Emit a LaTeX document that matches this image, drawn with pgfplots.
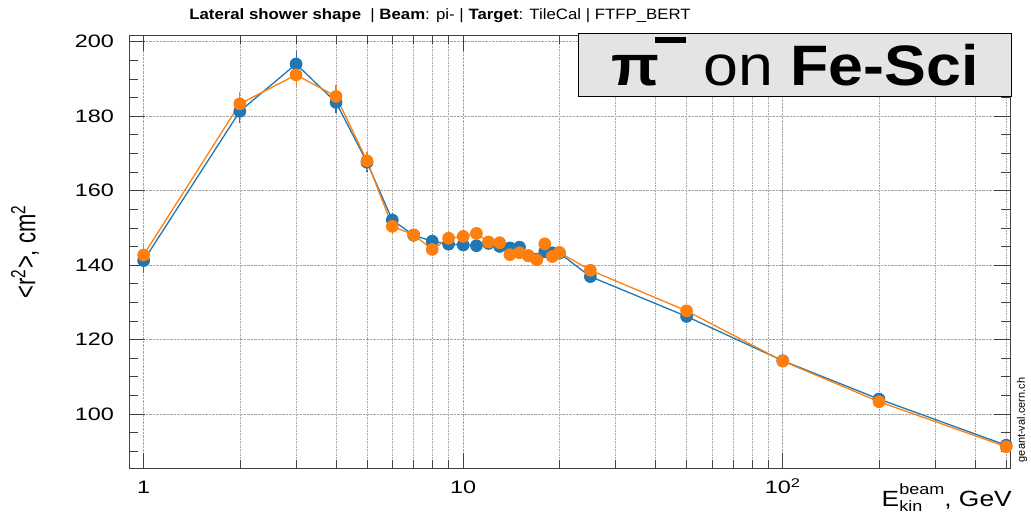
\documentclass[border=0pt]{standalone}
\usepackage{fontspec}
\setmainfont{Liberation Sans}
\usepackage{pgfplots}
\usepackage{pgfplotstable}
\pgfplotsset{compat=1.18}

\definecolor{simblue}{HTML}{1F77B4}
\definecolor{simorange}{HTML}{FF7F0E}
\definecolor{boxgray}{HTML}{E4E4E4}

% <r^2> versus beam energy, two Geant4 builds
\pgfplotstableread{
E    r      e
1    141.2  2.4
2    181.3  2.2
3    194.0  2.8
4    183.7  2.0
5    167.6  1.8
6    152.1  1.2
7    148.0  1.0
8    146.4  0.8
9    145.6  0.8
10   145.4  0.8
11   145.2  0.8
12   145.8  0.8
13   145.0  0.8
14   144.6  0.8
15   144.8  0.8
16   142.5  0.8
17   141.6  0.8
18   143.6  0.8
19   143.3  0.8
20   143.2  0.8
25   136.9  0.6
50   126.2  0.6
100  114.3  0.5
200  104.0  0.5
500  91.6   0.5
}\blueset

\pgfplotstableread{
E    r      e
1    142.7  2.0
2    183.3  2.4
3    191.1  2.2
4    185.3  2.2
5    168.0  1.6
6    150.4  1.2
7    148.1  1.0
8    144.2  1.0
9    147.2  0.9
10   147.7  0.9
11   148.5  0.9
12   146.2  0.8
13   146.0  0.8
14   142.8  0.8
15   143.3  0.8
16   142.5  0.8
17   141.4  0.8
18   145.7  0.8
19   142.3  0.8
20   143.4  0.8
25   138.6  0.6
50   127.7  0.6
100  114.2  0.5
200  103.3  0.5
500  91.2   0.5
}\orangeset

\begin{document}
\begin{tikzpicture}[x=1pt,y=1pt]
\useasboundingbox (0,0) rectangle (1031,514);
\begin{axis}[
  name=main,
  at={(129pt,45.3pt)}, anchor=south west,
  scale only axis, width=881pt, height=433.7pt,
  xmode=log, log basis x=10,
  xmin=0.9, xmax=514, ymin=85.3, ymax=201.8,
  xtick={1,10,100},
  xticklabels={\scalebox{1.3}[1]{1},\scalebox{1.3}[1]{10},\scalebox{1.3}[1]{10\textsuperscript{2}}},
  minor xtick={2,3,4,5,6,7,8,9,20,30,40,50,60,70,80,90,200,300,400,500},
  ytick={100,120,140,160,180,200},
  minor ytick={90,95,105,110,115,125,130,135,145,150,155,165,170,175,185,190,195},
  yticklabel={\scalebox{1.3}[1]{\pgfmathprintnumber[assume math mode=true]{\tick}}},
  xticklabel style={font=\fontsize{18}{18}\selectfont, anchor=base, inner sep=0pt, yshift=-25pt},
  yticklabel style={font=\fontsize{18}{18}\selectfont, anchor=east, inner sep=0pt, xshift=-15pt},
  tick align=inside,
  major tick length=16pt, minor tick length=9pt,
  every tick/.style={black!75, line width=0.6pt},
  axis line style={black!75, line width=0.7pt},
  xmajorgrids, xminorgrids, ymajorgrids,
  grid style={densely dotted, black!35, line width=0.6pt},
  minor grid style={densely dotted, black!35, line width=0.6pt},
  clip=false,
]
\addplot[simblue, line width=1.3pt, mark=*, mark size=5.7pt,
  error bars/.cd, y dir=both, y explicit,
  error bar style={line width=1.1pt}, error mark options={mark size=3pt, line width=1.1pt}]
  table[x=E, y=r, y error=e]{\blueset};
\addplot[simorange, line width=1.3pt, mark=*, mark size=5.7pt,
  error bars/.cd, y dir=both, y explicit,
  error bar style={line width=1.1pt}, error mark options={mark size=3pt, line width=1.1pt}]
  table[x=E, y=r, y error=e]{\orangeset};
\end{axis}

% title line
\node[anchor=base, inner sep=0pt, font=\fontsize{15}{15}\selectfont]
  at ([xshift=311pt, yshift=15pt]main.north west)
  {\scalebox{1.12}[1]{\textbf{Lateral shower shape}\ \ | \textbf{Beam}: pi- | \textbf{Target}: TileCal | FTFP\_BERT}};

% particle / target box
\node[draw=black, line width=0.8pt, fill=boxgray, anchor=north east, inner sep=0pt,
  minimum width=433pt, minimum height=63pt, text height=42pt, text depth=0pt,
  font=\fontsize{57}{57}\selectfont]
  at ([xshift=2pt, yshift=2.3pt]main.north east)
  {\scalebox{1.1}[1]{\textbf{π}\hspace{-4pt}\rule[43pt]{28pt}{6pt} on \textbf{Fe-Sci}}};

% y label
\node[rotate=90, anchor=center, inner sep=0pt, font=\fontsize{22}{22}\selectfont]
  at ([xshift=-104pt]main.west)
  {\scalebox{1}[1.33]{<r\textsuperscript{2}>, cm\textsuperscript{2}}};

% x label
\node[anchor=base east, inner sep=0pt, font=\fontsize{22}{22}\selectfont]
  at ([xshift=2pt, yshift=-37.8pt]main.south east)
  {\scalebox{1.2}[1]{E\rlap{\raisebox{-0.25em}{\fontsize{15}{15}\selectfont kin}}\raisebox{0.55em}{\fontsize{15}{15}\selectfont beam}, GeV}};

% site tag
\node[rotate=90, anchor=center, inner sep=0pt, font=\fontsize{11}{11}\selectfont]
  at ([xshift=12pt, yshift=48.7pt]main.south east)
  {geant-val.cern.ch};
\end{tikzpicture}
\end{document}
